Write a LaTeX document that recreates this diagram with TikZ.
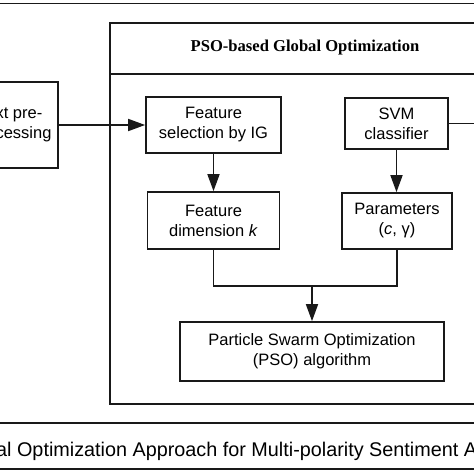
\documentclass[tikz,border=0pt]{standalone}
\usepackage{fontspec}
\setmainfont{Liberation Sans}
\newfontfamily\titlefont{Liberation Serif}
\usetikzlibrary{arrows.meta}
\begin{document}
\begin{tikzpicture}[x=1pt,y=-1pt,
  frame/.style={line width=1.7pt,draw=black!90},
  boxnode/.style={draw=black!90,line width=1.7pt,align=center,inner sep=0pt,
     font=\fontsize{16.5}{20}\selectfont},
  arr/.style={line width=1.7pt,draw=black!90,-{Triangle[length=17pt,width=12pt]}},
  conn/.style={line width=1.7pt,draw=black!90}]
\useasboundingbox (0,0) rectangle (474,474);
\clip (0,0) rectangle (474,474);
% top frame line
\coordinate (tl) at (-5,3.5);
\coordinate (tr) at (480,3.5);
\draw[frame] (tl) -- (tr);
% outer global box
\draw[frame] (110,22.7) rectangle (490,404);
\coordinate (sl) at (110,74);
\coordinate (sr) at (490,74);
\draw[frame] (sl) -- (sr);
\node[font=\titlefont\bfseries\fontsize{16.6}{20}\selectfont] (title) at (305,48) {PSO-based Global Optimization};
% left box
\node[boxnode,minimum width=69pt,minimum height=86pt,align=left] (pre) at (23.5,125) {xt pre-\\cessing};
% inner boxes
\node[boxnode,minimum width=135pt,minimum height=56pt] (fs) at (213.5,125) {Feature\\selection by IG};
\node[boxnode,minimum width=103pt,minimum height=51pt] (svm) at (396.5,123.5) {SVM\\classifier};
\node[boxnode,minimum width=132pt,minimum height=57pt] (fd) at (213.5,220.5) {Feature\\dimension \textit{k}};
\node[boxnode,minimum width=110pt,minimum height=56pt] (par) at (397,221) {Parameters\\(\textit{c}, γ)};
\node[boxnode,minimum width=264pt,minimum height=59pt] (pso) at (312,351.5) {Particle Swarm Optimization\\(PSO) algorithm};
% connectors
\draw[arr] (pre.east |- fs.west) -- (fs.west);
\coordinate (svmout) at (480,123.5);
\draw[conn] (svm.east) -- (svmout);
\draw[arr] (fs.south) -- (fd.north);
\draw[arr] (svm.south) -- (svm.south |- par.north);
\coordinate (j) at (312,286);
\draw[conn] (fd.south) -- (fd.south |- j) -- (par.south |- j) -- (par.south);
\draw[arr] (j) -- (pso.north);
% caption
\coordinate (cl1) at (-5,423);
\coordinate (cr1) at (480,423);
\coordinate (cl2) at (-5,469);
\coordinate (cr2) at (480,469);
\draw[frame] (cl1) -- (cr1);
\draw[frame] (cl2) -- (cr2);
\node[anchor=base west,inner sep=0pt,font=\fontsize{19.8}{22}\selectfont] (cap) at (-4,456.5) {al Optimization Approach for Multi-polarity Sentiment A};
\end{tikzpicture}
\end{document}
